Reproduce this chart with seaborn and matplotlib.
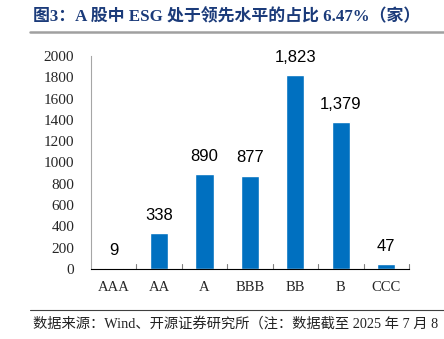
import matplotlib
matplotlib.use("Agg")
import matplotlib.pyplot as plt
import seaborn as sns
import pandas as pd
from matplotlib.lines import Line2D

ratings = ["AAA", "AA", "A", "BBB", "BB", "B", "CCC"]
counts = [9, 338, 890, 877, 1823, 1379, 47]
yticks = [0, 200, 400, 600, 800, 1000, 1200, 1400, 1600, 1800, 2000]

title = "图3：A 股中 ESG 处于领先水平的占比 6.47%（家）"
source = "数据来源：Wind、开源证券研究所（注：数据截至 2025 年 7 月 8 日）"

sns.set_theme(style="white")
plt.rcParams["font.family"] = ["Liberation Serif", "Noto Sans CJK SC", "DejaVu Sans"]

df = pd.DataFrame({"rating": ratings, "count": counts})

fig = plt.figure(figsize=(4.44, 3.39), dpi=100)
ax = fig.add_axes([0.205, 0.2065, 0.716, 0.6285])

sns.barplot(data=df, x="rating", y="count", color="#0070C0", saturation=1,
            width=0.4, ax=ax)

for i, v in enumerate(counts):
    ax.text(i, v + 95, f"{v:,}", ha="center", va="bottom", fontsize=12,
            family=["Liberation Sans", "DejaVu Sans"], color="black")

ax.set_xlim(-0.5, len(ratings) - 0.5)
ax.set_ylim(0, 2000)
ax.set_yticks(yticks)
ax.set_yticklabels([str(t) for t in yticks], fontsize=11)
ax.set_xticks(range(len(ratings)))
ax.set_xticklabels(ratings, fontsize=10.5)
ax.set_xlabel("")
ax.set_ylabel("")

for s in ["top", "right"]:
    ax.spines[s].set_visible(False)
ax.spines["left"].set_color("#A6A6A6")
ax.spines["bottom"].set_color("black")
ax.spines["left"].set_linewidth(0.8)
ax.spines["bottom"].set_linewidth(0.8)

ax.tick_params(axis="y", length=4, width=0.8, color="#808080", direction="out", pad=8)
ax.tick_params(axis="x", length=0, pad=9)
# category separator ticks along the baseline
for b in range(1, len(ratings) + 1):
    ax.plot([b - 0.5, b - 0.5], [0, 45], color="#808080", lw=0.8, clip_on=False)

fig.text(0.074, 0.95, title, fontsize=12.2, fontweight="bold", color="#1B3B7A",
         ha="left", va="center")
fig.add_artist(Line2D([0.068, 1.0], [0.906, 0.906], color="#A0A0A0", lw=1.8,
                      transform=fig.transFigure))
fig.add_artist(Line2D([0.068, 1.0], [0.086, 0.086], color="#404040", lw=0.8,
                      transform=fig.transFigure))
fig.text(0.074, 0.044, source, fontsize=10.3, color="#222222", ha="left", va="center")

fig.savefig("out.png", dpi=100)
